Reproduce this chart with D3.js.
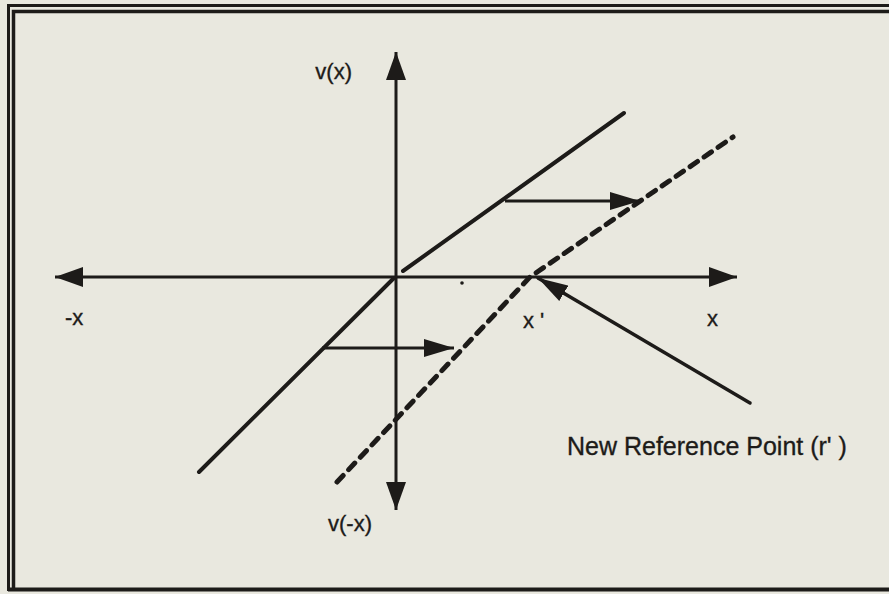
<!DOCTYPE html>
<html>
<head>
<meta charset="utf-8">
<script src="https://cdn.jsdelivr.net/npm/d3@7"></script>
<style>
  html, body { margin: 0; padding: 0; background: #e9e8df; }
  svg { display: block; }
  text { font-family: "Liberation Sans", Arial, Helvetica, sans-serif; fill: #1d1b19; stroke: #1d1b19; stroke-width: 0.35px; }
</style>
</head>
<body>
<div id="chart"></div>
<script>
// value curve before and after the reference point moves (units of the sketch)
var solidLoss = [[-19.7, -19.5], [-0.2, -0.1]];
var solidGain = [[0.7, 0.6], [22.8, 16.4]];
var shiftedCurve = [[-5.9, -20.5], [13.4, 0], [33.7, 14.0]];

// horizontal shift arrows and the pointer to the new reference point
var shiftArrows = [
  [[10.9, 7.6], [24.4, 7.6]],
  [[-7.4, -7.1], [5.8, -7.1]]
];
var pointerArrow = [[35.4, -12.6], [14.2, -0.1]];
var tickDot = [6.6, -0.6];

var axisLabels = ['v(x)', '-x', "x '", 'x', 'v(-x)'];
var axisLabelPos = [[-4.4, 19.8], [-33.1, -4.8], [12.7, -5.1], [31.1, -4.9], [-6.8, -25.4]];
var axisLabelAnchor = ['end', 'start', 'start', 'start', 'start'];
var noteLabel = "New Reference Point (r' )";
var notePos = [17.1, -17.8];

(function(d3) {
  'use strict';

  var width = 889;
  var height = 594;
  var ink = '#1d1b19';

  var x = d3.scaleLinear().domain([-34.1, 34.1]).range([55, 737]);
  var y = d3.scaleLinear().domain([-23.3, 22.5]).range([510, 52]);

  var svg = d3.select('#chart')
    .append('svg')
    .attr('width', width)
    .attr('height', height);

  svg.append('rect')
    .attr('width', width)
    .attr('height', height)
    .attr('fill', '#e9e8df');

  // double frame, open on the right like the scan
  var frame = svg.append('g').attr('stroke', ink).attr('fill', 'none');
  frame.append('path').attr('d', 'M889,5.5H8.5V591').attr('stroke-width', 3);
  frame.append('path').attr('d', 'M889,11.5H13.5V588').attr('stroke-width', 3.5);
  frame.append('path').attr('d', 'M8,589.5H889').attr('stroke-width', 4);

  var defs = svg.append('defs');
  function marker(id, len, half) {
    defs.append('marker')
      .attr('id', id)
      .attr('markerUnits', 'userSpaceOnUse')
      .attr('viewBox', '0 ' + (-half) + ' ' + len + ' ' + (half * 2))
      .attr('refX', len)
      .attr('refY', 0)
      .attr('markerWidth', len)
      .attr('markerHeight', half * 2)
      .attr('orient', 'auto-start-reverse')
      .append('path')
      .attr('d', 'M0,' + (-half) + 'L' + len + ',0L0,' + half + 'Z')
      .attr('fill', ink);
  }
  marker('head-axis', 28, 10);
  marker('head-small', 30, 9);

  var line = d3.line()
    .x(function(d) { return x(d[0]); })
    .y(function(d) { return y(d[1]); });

  // axes
  var xDom = x.domain();
  var yDom = y.domain();
  svg.append('path')
    .attr('d', line([[xDom[0], 0], [xDom[1], 0]]))
    .attr('stroke', ink)
    .attr('stroke-width', 3)
    .attr('marker-start', 'url(#head-axis)')
    .attr('marker-end', 'url(#head-axis)');
  svg.append('path')
    .attr('d', line([[0, yDom[0]], [0, yDom[1]]]))
    .attr('stroke', ink)
    .attr('stroke-width', 3)
    .attr('marker-start', 'url(#head-axis)')
    .attr('marker-end', 'url(#head-axis)');

  // original curve
  [solidLoss, solidGain].forEach(function(seg) {
    svg.append('path')
      .attr('d', line(seg))
      .attr('fill', 'none')
      .attr('stroke', ink)
      .attr('stroke-width', 4)
      .attr('stroke-linecap', 'round');
  });

  // shifted curve
  svg.append('path')
    .attr('d', line(shiftedCurve))
    .attr('fill', 'none')
    .attr('stroke', ink)
    .attr('stroke-width', 5)
    .attr('stroke-dasharray', '9,8')
    .attr('stroke-linecap', 'round');

  shiftArrows.forEach(function(a) {
    svg.append('path')
      .attr('d', line(a))
      .attr('stroke', ink)
      .attr('stroke-width', 3)
      .attr('marker-end', 'url(#head-small)');
  });

  svg.append('path')
    .attr('d', line(pointerArrow))
    .attr('stroke', ink)
    .attr('stroke-width', 3.5)
    .attr('stroke-linecap', 'round')
    .attr('marker-end', 'url(#head-small)');

  svg.append('circle')
    .attr('cx', x(tickDot[0]))
    .attr('cy', y(tickDot[1]))
    .attr('r', 1.8)
    .attr('fill', ink);

  svg.selectAll('text.axis-label')
    .data(axisLabels)
    .enter()
    .append('text')
    .attr('class', 'axis-label')
    .attr('x', function(d, i) { return x(axisLabelPos[i][0]); })
    .attr('y', function(d, i) { return y(axisLabelPos[i][1]); })
    .attr('text-anchor', function(d, i) { return axisLabelAnchor[i]; })
    .attr('font-size', 22)
    .text(function(d) { return d; });

  svg.append('text')
    .attr('x', x(notePos[0]))
    .attr('y', y(notePos[1]))
    .attr('font-size', 25)
    .text(noteLabel);

})(window.d3);
</script>
</body>
</html>
